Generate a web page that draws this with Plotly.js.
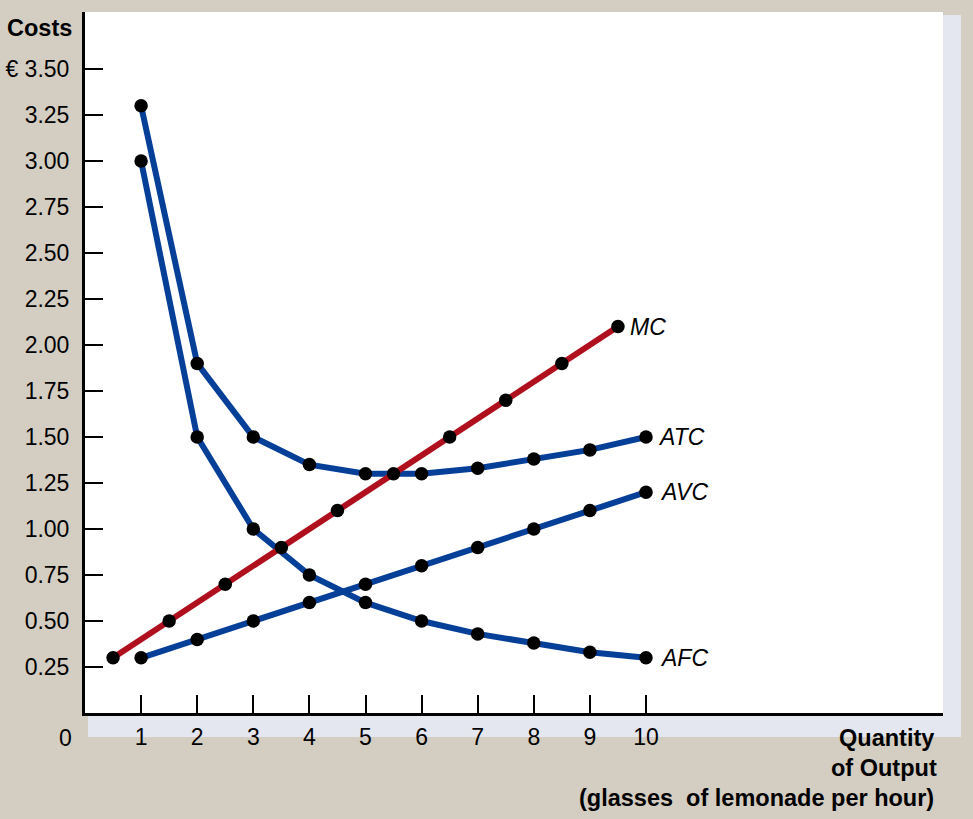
<!DOCTYPE html>
<html>
<head>
<meta charset="utf-8">
<script src="https://cdn.plot.ly/plotly-3.0.1.min.js"></script>
<style>html,body{margin:0;padding:0;background:#d4cdc2;}#chart{width:973px;height:819px;}</style>
</head>
<body>
<div id="chart"></div>
<script>
// Data
const qty = [1, 2, 3, 4, 5, 6, 7, 8, 9, 10];
const mcQty = [0.5, 1.5, 2.5, 3.5, 4.5, 5.5, 6.5, 7.5, 8.5, 9.5];
const mc  = [0.30, 0.50, 0.70, 0.90, 1.10, 1.30, 1.50, 1.70, 1.90, 2.10];
const atc = [3.30, 1.90, 1.50, 1.35, 1.30, 1.30, 1.33, 1.38, 1.43, 1.50];
const avc = [0.30, 0.40, 0.50, 0.60, 0.70, 0.80, 0.90, 1.00, 1.10, 1.20];
const afc = [3.00, 1.50, 1.00, 0.75, 0.60, 0.50, 0.43, 0.38, 0.33, 0.30];
const yTickVals = [0.25, 0.5, 0.75, 1.0, 1.25, 1.5, 1.75, 2.0, 2.25, 2.5, 2.75, 3.0, 3.25, 3.5];
const yTickText = ["0.25", "0.50", "0.75", "1.00", "1.25", "1.50", "1.75", "2.00", "2.25", "2.50", "2.75", "3.00", "3.25", "€ 3.50"];
const xTickVals = [1, 2, 3, 4, 5, 6, 7, 8, 9, 10];

const blue = '#063f98';
const red = '#b0101e';
const lineW = 6;

function lineTrace(x, y, color) {
  return {x: x, y: y, mode: 'lines', line: {color: color, width: lineW}, hoverinfo: 'skip', showlegend: false, cliponaxis: false};
}
function markTrace(x, y) {
  return {x: x, y: y, mode: 'markers', marker: {color: '#000', size: 13.5}, hoverinfo: 'skip', showlegend: false, cliponaxis: false};
}

const traces = [
  lineTrace(qty, afc, blue),
  lineTrace(qty, atc, blue),
  lineTrace(qty, avc, blue),
  lineTrace(mcQty, mc, red),
  markTrace(qty, afc),
  markTrace(qty, atc),
  markTrace(qty, avc),
  markTrace(mcQty, mc)
];

// plot area pixel geometry
const L = 85, R = 943, T = 12, B = 713, W = 973, H = 819;
const px = v => (v - L) / (R - L);
const py = v => (B - v) / (B - T);
const shadow = '#e4e7ef';

const font = {family: 'Liberation Sans, Arial, sans-serif', color: '#000'};
const tickSize = 23;
const titleSize = 23.5;

const labelFont = Object.assign({}, font, {size: 23});
function curveLabel(text, x, y, shift) {
  return {x: x, y: y, xref: 'x', yref: 'y', text: '<i>' + text + '</i>', showarrow: false,
          xanchor: 'left', yanchor: 'middle', xshift: shift, font: labelFont};
}

const layout = {
  width: W, height: H,
  paper_bgcolor: '#d4cdc2',
  plot_bgcolor: '#ffffff',
  margin: {l: L, r: W - R, t: T, b: H - B, pad: 0},
  xaxis: {
    range: [0, (R - L) / 56.1],
    tickvals: xTickVals,
    ticks: 'inside', ticklen: 18, tickwidth: 2, tickcolor: '#000',
    showline: true, linecolor: '#000', linewidth: 3,
    showgrid: false, zeroline: false,
    tickfont: Object.assign({}, font, {size: tickSize}),
    ticklabelstandoff: 1,
    fixedrange: true
  },
  yaxis: {
    range: [0, (B - T) / 184],
    tickvals: yTickVals, ticktext: yTickText,
    ticks: 'inside', ticklen: 18, tickwidth: 2, tickcolor: '#000',
    showline: true, linecolor: '#000', linewidth: 3,
    showgrid: false, zeroline: false,
    tickfont: Object.assign({}, font, {size: tickSize}),
    ticklabelstandoff: 8,
    fixedrange: true
  },
  shapes: [
    {type: 'rect', xref: 'paper', yref: 'paper', x0: px(R), x1: px(961), y0: py(737), y1: py(15),
     fillcolor: shadow, line: {width: 0}, layer: 'below'},
    {type: 'rect', xref: 'paper', yref: 'paper', x0: px(88), x1: px(R), y0: py(737), y1: py(B),
     fillcolor: shadow, line: {width: 0}, layer: 'below'}
  ],
  annotations: [
    {xref: 'paper', yref: 'paper', x: px(5), y: py(28), text: '<b>Costs</b>', showarrow: false,
     xanchor: 'left', yanchor: 'middle', font: Object.assign({}, font, {size: titleSize})},
    {xref: 'paper', yref: 'paper', x: px(74), y: py(738), text: '0', showarrow: false,
     xanchor: 'right', yanchor: 'middle', font: Object.assign({}, font, {size: tickSize})},
    {xref: 'paper', yref: 'paper', x: px(936), y: py(738), text: '<b>Quantity</b>', showarrow: false,
     xanchor: 'right', yanchor: 'middle', font: Object.assign({}, font, {size: titleSize})},
    {xref: 'paper', yref: 'paper', x: px(939), y: py(768), text: '<b>of Output</b>', showarrow: false,
     xanchor: 'right', yanchor: 'middle', font: Object.assign({}, font, {size: titleSize})},
    {xref: 'paper', yref: 'paper', x: px(936), y: py(798), text: '<b>(glasses  of lemonade per hour)</b>', showarrow: false,
     xanchor: 'right', yanchor: 'middle', font: Object.assign({}, font, {size: titleSize})},
    curveLabel('MC', mcQty[9], mc[9], 10),
    curveLabel('ATC', qty[9], atc[9], 10),
    curveLabel('AVC', qty[9], avc[9], 12),
    curveLabel('AFC', qty[9], afc[9], 12)
  ]
};

Plotly.newPlot('chart', traces, layout, {displayModeBar: false, staticPlot: true});
</script>
</body>
</html>
